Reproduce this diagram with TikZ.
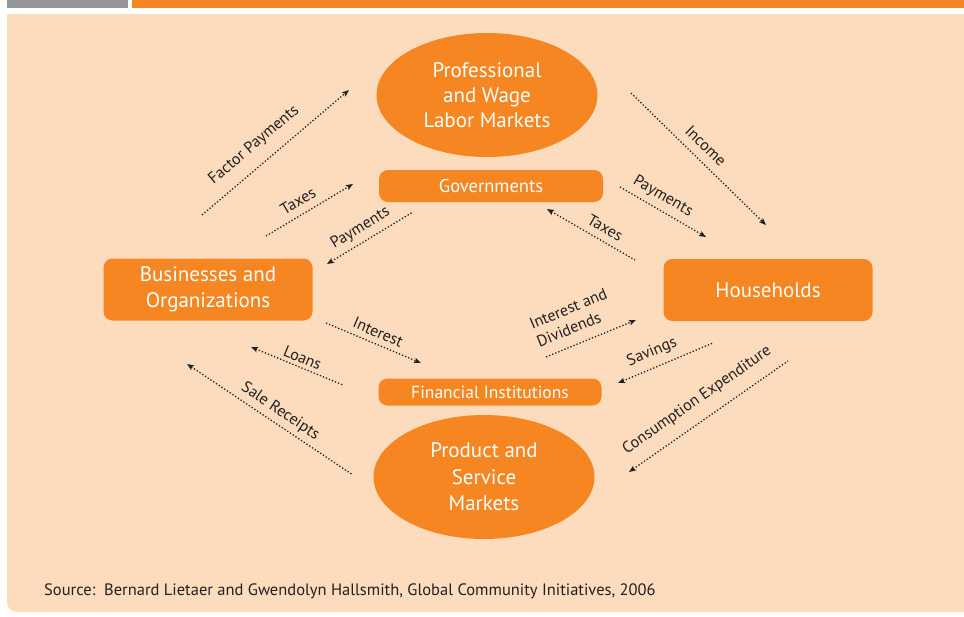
\documentclass[tikz,border=0pt]{standalone}
\usepackage{fontspec}
\setmainfont{PT Sans}
\usetikzlibrary{shapes.geometric,arrows.meta}

\definecolor{boxorange}{HTML}{F68621}
\definecolor{panelpeach}{HTML}{FDDCBE}
\definecolor{bargray}{HTML}{939598}
\definecolor{inkgray}{HTML}{231F20}

\tikzset{
  market/.style={ellipse, fill=boxorange, text=white, align=center, inner sep=0pt,
    minimum width=221pt, minimum height=124pt, font=\fontsize{21}{25}\selectfont},
  sector/.style={rectangle, rounded corners=9pt, fill=boxorange, text=white, align=center,
    inner sep=0pt, minimum width=209pt, minimum height=62pt, font=\fontsize{21}{25.5}\selectfont},
  agency/.style={rectangle, rounded corners=9pt, fill=boxorange, text=white, inner sep=0pt,
    minimum width=224pt},
  flow/.style={inkgray, dotted, line width=1.3pt},
  tip/.style={-{Stealth[length=7pt,width=5.5pt,inset=1.5pt]}},
  fliptip/.style={{Stealth[length=7pt,width=5.5pt,inset=1.5pt]}-},
  flowlabel/.style={sloped, inner sep=0pt, text=inkgray, font=\fontsize{16}{19.5}\selectfont}
}

\begin{document}
\begin{tikzpicture}[x=1pt,y=-1pt]
    \useasboundingbox (0,0) rectangle (964,616);
    % Background panel and top bars
    \fill[white] (0,0) rectangle (964,616);
    \fill[bargray] (7,0) rectangle (128,8);
    \fill[boxorange] (132,0) rectangle (964,8);
    \fill[panelpeach] (7,14) -- (964,14) -- (964,612) -- (17,612)
        arc[start angle=270, end angle=180, radius=10pt] -- cycle;

    % Markets
    \node[market] (labor) at (487,95) {Professional\\and Wage\\Labor Markets};
    \node[market, font=\fontsize{21}{26.5}\selectfont] (product) at (484,477) {Product and\\Service\\Markets};

    % Sectors
    \node[sector] (business) at (208,289.5) {Businesses and\\Organizations};
    \node[sector] (household) at (768,290) {Households};

    % Governments and banks
    \node[agency, minimum height=32pt, font=\fontsize{18.5}{22}\selectfont] (govt) at (491,186) {Governments};
    \node[agency, minimum width=223pt, minimum height=27pt, font=\fontsize{17.5}{21}\selectfont] (bank) at (490,392) {Financial Institutions};

    % Arrow end points
    \coordinate (fp1) at (202,215); \coordinate (fp2) at (349,90);
    \coordinate (tl1) at (266,236); \coordinate (tl2) at (353,184);
    \coordinate (pl1) at (327,264); \coordinate (pl2) at (413,212);
    \coordinate (in1) at (631,93);  \coordinate (in2) at (766,225);
    \coordinate (pr1) at (620,187); \coordinate (pr2) at (706,237);
    \coordinate (tr1) at (547,209); \coordinate (tr2) at (635,260);
    \coordinate (it1) at (326,323); \coordinate (it2) at (421,363);
    \coordinate (lo1) at (251,347); \coordinate (lo2) at (343,385);
    \coordinate (sr1) at (187,364); \coordinate (sr2) at (353,475);
    \coordinate (id1) at (546,357); \coordinate (id2) at (636,320);
    \coordinate (sv1) at (618,383); \coordinate (sv2) at (713,343);
    \coordinate (ce1) at (629,472); \coordinate (ce2) at (788,361);

    % Money flows
    \draw[flow, tip] (fp1) -- node[flowlabel, pos=.44, above=11.5pt] {Factor Payments} (fp2);
    \draw[flow, tip] (tl1) -- node[flowlabel, pos=.45, above=7.5pt] {Taxes} (tl2);
    \draw[flow, fliptip] (pl1) -- node[flowlabel, pos=.47, above=5.5pt] {Payments} (pl2);
    \draw[flow, tip] (in1) -- node[flowlabel, pos=.48, above=8pt] {Income} (in2);
    \draw[flow, tip] (pr1) -- node[flowlabel, pos=.42, above=5.5pt] {Payments} (pr2);
    \draw[flow, fliptip] (tr1) -- node[flowlabel, pos=.59, above=6.5pt] {Taxes} (tr2);
    \draw[flow, tip] (it1) -- node[flowlabel, pos=.5, above=5.5pt] {Interest} (it2);
    \draw[flow, fliptip] (lo1) -- node[flowlabel, pos=.52, above=3.5pt] {Loans} (lo2);
    \draw[flow, fliptip] (sr1) -- node[flowlabel, pos=.52, above=4.5pt] {Sale Receipts} (sr2);
    \draw[flow, tip] (id1) -- node[flowlabel, pos=.4, above=10.5pt, align=left] {Interest and\\Dividends} (id2);
    \draw[flow, fliptip] (sv1) -- node[flowlabel, pos=.42, above=7pt] {Savings} (sv2);
    \draw[flow, fliptip] (ce1) -- node[flowlabel, pos=.5, above=12pt] {Consumption Expenditure} (ce2);

    % Source line
    \node[anchor=west, inner sep=0pt, text=inkgray, font=\fontsize{16.5}{18}\selectfont] (source) at (44,591)
        {Source:~~Bernard Lietaer and Gwendolyn Hallsmith, Global Community Initiatives, 2006};
\end{tikzpicture}
\end{document}
